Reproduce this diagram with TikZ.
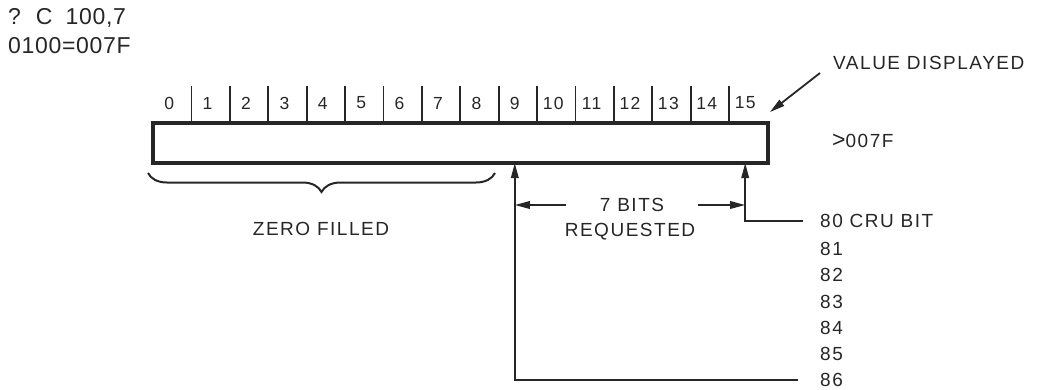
\documentclass[tikz,border=0pt]{standalone}
\usepackage{fontspec}
\setmainfont{Liberation Sans}[LetterSpace=8]
\newfontfamily\topfont{Liberation Sans}[LetterSpace=3]
\usetikzlibrary{arrows.meta, positioning, decorations.pathreplacing}

\begin{document}
\begin{tikzpicture}[x=1pt,y=-1pt,
  ink/.style={draw=black!85, text=black!85},
  lbl/.style={ink, draw=none, font=\fontsize{19}{21}\selectfont, inner sep=0pt},
  toptxt/.style={ink, draw=none, font=\topfont\fontsize{23}{26}\selectfont, inner sep=0pt, anchor=west},
  bitnum/.style={ink, draw=none, font=\fontsize{17.5}{19}\selectfont, inner sep=0pt},
  tick/.style={ink, line width=1.8pt},
  ptr/.style={ink, line width=1.8pt, -{Triangle[length=15pt,width=7.5pt]}},
  brc/.style={ink, line width=2pt, decorate, decoration={brace, mirror, amplitude=19pt}},
  ]
  \useasboundingbox (0,0) rectangle (1042,389);
  \def\cellw{38.4}

  % --- command typed and reply ---
  \node[toptxt] (cmd) at (8,18) {?\hspace{15pt}C\hspace{13pt}100,7};
  \node[toptxt] (rep) at (8,46) {0100=007F};

  % --- 16 bit register ---
  \node[ink, line width=3.5pt, outer sep=0pt, inner sep=0pt, anchor=north west,
        minimum width=615pt, minimum height=40pt] (reg) at (153,123) {};
  \foreach \k in {1,...,15}
    \draw[tick] ([xshift=\k*\cellw]reg.north west) -- ++(0,-37);
  \foreach \k in {0,...,15}
    \node[bitnum] (b\k) at ([xshift={(\k+0.5)*\cellw-3}, yshift=20pt]reg.north west) {\k};

  % value shown
  \node[lbl, anchor=west] (vd) at (833,63) {VALUE DISPLAYED};
  \draw[ptr] ([shift={(-13,10)}]vd.west) -- ([shift={(2,-11)}]reg.north east);
  \node[lbl, anchor=west] (val) at (832,141) {{\fontsize{23}{23}\selectfont>}007F};

  % zero filled part
  \draw[brc] ([shift={(-5,10)}]reg.south west) -- ([shift={(342,10)}]reg.south west);
  \node[lbl] (zf) at (321,229) {ZERO FILLED};

  % --- CRU bits ---
  \node[lbl, anchor=west] (l80) at (820,221) {80 CRU BIT};
  \foreach \n [count=\i] in {81,...,86}
    \node[lbl, anchor=west] (l\n) at (820,{223+26.2*\i}) {\n};

  \draw[ptr] ([xshift=-17pt]l80.west) -| (b15 |- reg.south);
  \draw[ptr] ([xshift=-22pt]l86.west) -| (b9 |- reg.south);

  % bits requested
  \node[lbl, inner xsep=34pt] (bits) at (632,205) {7 BITS};
  \node[lbl] (req) at (630,232) {REQUESTED};
  \draw[ptr] (bits.west) -- (bits.west -| b9);
  \draw[ptr] (bits.east) -- (bits.east -| b15);
\end{tikzpicture}
\end{document}
